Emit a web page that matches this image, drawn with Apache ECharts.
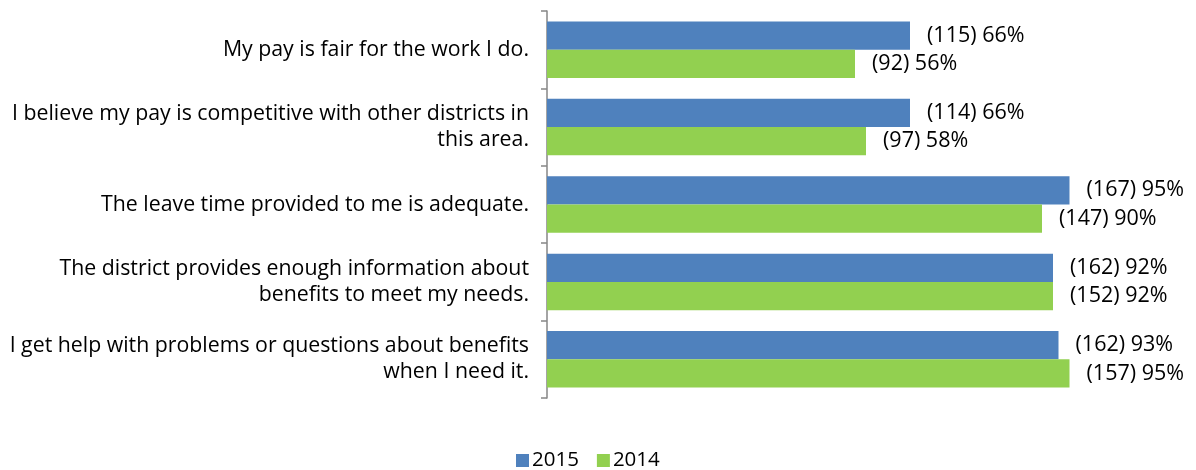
<!DOCTYPE html>
<html lang="en">
<head>
<meta charset="UTF-8">
<title>Pay and benefits</title>
<style>
  html, body { margin: 0; padding: 0; background: #fff; }
  #container { width: 1196px; height: 470px; }
</style>
</head>
<body>
<div id="container"></div>
<script src="https://cdn.jsdelivr.net/npm/echarts@6/dist/echarts.min.js"></script>
<script>
  var categories = [
    'My pay is fair for the work I do.',
    'I believe my pay is competitive with other districts in\nthis area.',
    'The leave time provided to me is adequate.',
    'The district provides enough information about\nbenefits to meet my needs.',
    'I get help with problems or questions about benefits\nwhen I need it.'
  ];
  var pct2015 = [66, 66, 95, 92, 93];
  var pct2014 = [56, 58, 90, 92, 95];
  var count2015 = [115, 114, 167, 162, 162];
  var count2014 = [92, 97, 147, 152, 157];

  var font = 'Open Sans';

  function labelFor(counts) {
    return {
      show: true,
      position: 'right',
      distance: 17,
      color: '#000',
      fontFamily: font,
      fontSize: 21.5,
      formatter: function (p) {
        return '(' + counts[p.dataIndex] + ') ' + p.value + '%';
      }
    };
  }

  var chart = echarts.init(document.getElementById('container'));
  chart.setOption({
    backgroundColor: '#fff',
    animation: false,
    color: ['#4F81BD', '#92D050'],
    legend: {
      data: ['2015', '2014'],
      left: 511,
      top: 445,
      itemWidth: 13,
      itemHeight: 13,
      itemGap: 18,
      icon: 'rect',
      textStyle: { fontFamily: font, fontSize: 20.5, color: '#000', padding: [0, 0, 0, -2] }
    },
    grid: { left: 547, right: 99, top: 11, bottom: 72 },
    xAxis: {
      type: 'value',
      min: 0,
      max: 100,
      show: false
    },
    yAxis: {
      type: 'category',
      inverse: true,
      data: categories,
      axisLine: { show: true, lineStyle: { color: '#868686', width: 1.5 } },
      axisTick: { show: true, length: 6, lineStyle: { color: '#868686', width: 1.5 } },
      axisLabel: {
        margin: 18,
        align: 'right',
        color: '#000',
        fontFamily: font,
        fontSize: 21.3,
        lineHeight: 26
      }
    },
    series: [
      {
        name: '2015',
        type: 'bar',
        data: pct2015,
        barGap: '0%',
        barCategoryGap: '27%',
        label: labelFor(count2015)
      },
      {
        name: '2014',
        type: 'bar',
        data: pct2014,
        label: labelFor(count2014)
      }
    ]
  });
</script>
</body>
</html>
